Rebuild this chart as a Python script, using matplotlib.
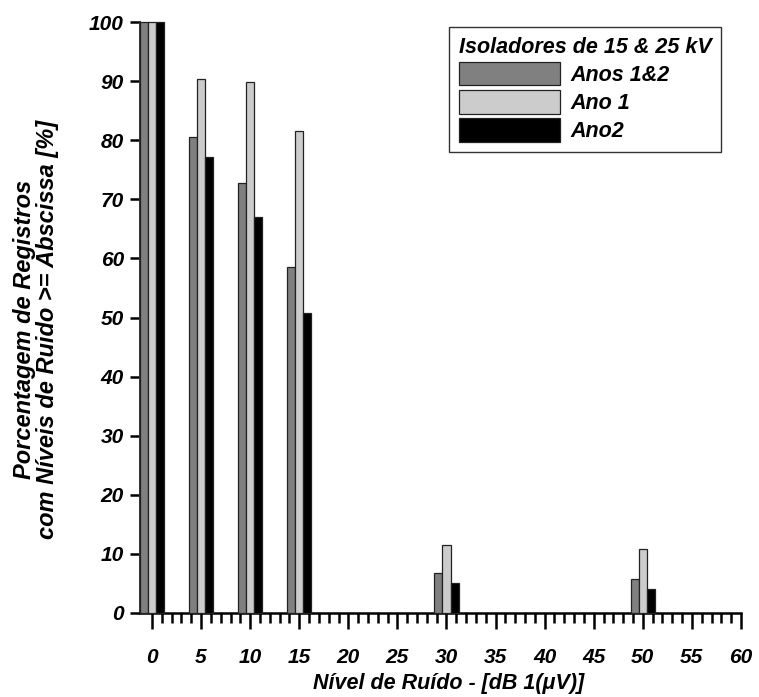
import matplotlib
matplotlib.use("Agg")
import matplotlib.pyplot as plt
import numpy as np

levels = [0, 5, 10, 15, 30, 50]
anos_1_2 = [100, 80.5, 72.8, 58.6, 6.7, 5.7]
ano_1 = [100, 90.4, 89.8, 81.6, 11.5, 10.8]
ano_2 = [100, 77.2, 67.0, 50.8, 5.1, 4.1]
series_labels = ["Anos 1&2", "Ano 1", "Ano2"]
xticks = list(range(0, 61, 5))
yticks = list(range(0, 101, 10))

plt.rcParams['font.family'] = ['Liberation Sans', 'DejaVu Sans']

fig = plt.figure(figsize=(7.59, 6.97), dpi=100)
ax = fig.add_axes([140/759, 84/697, 601/759, 591/697])

w = 0.82
x = np.array(levels, dtype=float)
colors = ["#808080", "#cccccc", "#000000"]
for off, vals, c, lab in zip([-w, 0, w], [anos_1_2, ano_1, ano_2], colors, series_labels):
    ax.bar(x + off, vals, width=w, color=c, edgecolor="#222222", linewidth=0.9,
           label=lab, clip_on=False, zorder=3)

ax.set_xlim(-1.22, 60)
ax.set_ylim(0, 100)
ax.spines['top'].set_visible(False)
ax.spines['right'].set_visible(False)
ax.spines['left'].set_linewidth(1.4)
ax.spines['left'].set_color('#333333')
ax.spines['bottom'].set_linewidth(1.8)
ax.set_xticks(xticks)
ax.set_xticks(range(0, 61), minor=True)
ax.set_yticks(yticks)
ax.tick_params(axis='x', which='major', direction='out', length=11.5, width=1.8, pad=14)
ax.tick_params(axis='x', which='minor', direction='out', length=7, width=1.8)
ax.tick_params(axis='y', which='major', direction='out', length=7.5, width=1.8, pad=4)
for lbl in ax.get_xticklabels() + ax.get_yticklabels():
    lbl.set_fontsize(15)
    lbl.set_fontweight('bold')
    lbl.set_fontstyle('italic')

ax.set_xlabel("Nível de Ruído - [dB 1(μV)]", fontsize=15.5, fontweight='bold',
              fontstyle='italic')
ax.xaxis.set_label_coords((449 - 140) / 601, -(684 - 613) / 591)
ax.xaxis.label.set_va('center')
ax.set_ylabel("Porcentagem de Registros\ncom Níveis de Ruido >= Abscissa [%]",
              fontsize=17, fontweight='bold', fontstyle='italic',
              linespacing=1.0)
ax.yaxis.set_label_coords(-(140 - 36) / 601, (613 - 329) / 591)
ax.yaxis.label.set_va('center')

leg = ax.legend(loc='upper right', bbox_to_anchor=(721/759, 1 - 27/697),
                bbox_transform=fig.transFigure,
                title="Isoladores de 15 & 25 kV", fancybox=False,
                prop={'weight': 'bold', 'style': 'italic', 'size': 15.5},
                handlelength=4.7, handleheight=1.3, borderpad=0.45,
                labelspacing=0.2, handletextpad=0.5, framealpha=1,
                borderaxespad=0)
leg.get_title().set_fontweight('bold')
leg.get_title().set_fontstyle('italic')
leg.get_title().set_fontsize(15.5)
leg._legend_box.align = "left"
leg.get_frame().set_edgecolor('#333333')
leg.get_frame().set_linewidth(1.0)

fig.savefig("out.png", dpi=100)
